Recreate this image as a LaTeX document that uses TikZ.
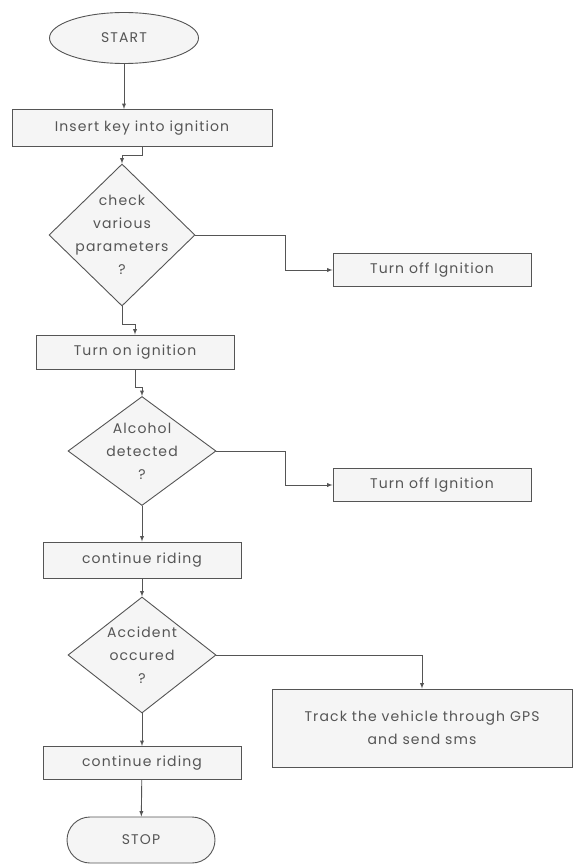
\documentclass[tikz,border=0pt]{standalone}
\usepackage{fontspec}
\setmainfont{Poppins}[LetterSpace=8]
\usetikzlibrary{shapes.geometric,shapes.misc}
\definecolor{linegray}{HTML}{555555}
\definecolor{textgray}{HTML}{555555}
\definecolor{boxgray}{HTML}{F5F5F5}

\begin{document}
\begin{tikzpicture}[x=1pt,y=-1pt]
      \tikzset{>=latex}
      \tikzset{
        flow/.style={draw=linegray, line width=0.9pt, fill=boxgray, text=textgray,
          font=\fontsize{14}{23}\selectfont, align=center, inner sep=0pt},
        process/.style={flow, shape=rectangle},
        decision/.style={flow, shape=diamond, inner sep=-24pt},
        terminal/.style={flow, shape=ellipse},
        stopbox/.style={flow, shape=rounded rectangle},
        link/.style={draw=linegray, line width=0.9pt, ->}
      }
      \useasboundingbox (0,0) rectangle (573,864);

      \node[terminal, minimum width=149pt, minimum height=51pt](start) at (124,38) {START};
      \node[process, minimum width=260pt, minimum height=37pt](insert) at (142,128) {Insert key into ignition};
      \node[decision, minimum width=146pt, minimum height=142pt](check) at (122,235) {check\\various\\parameters\\?};
      \node[process, minimum width=198pt, minimum height=33pt](offA) at (432,270) {Turn off Ignition};
      \node[process, minimum width=198pt, minimum height=34pt](turnon) at (135,352) {Turn on ignition};
      \node[decision, minimum width=148pt, minimum height=109pt](alcohol) at (142,451) {Alcohol\\detected\\?};
      \node[process, minimum width=198pt, minimum height=33pt](offB) at (432,485) {Turn off Ignition};
      \node[process, minimum width=198pt, minimum height=36pt](rideA) at (142,560) {continue riding};
      \node[decision, minimum width=148pt, minimum height=116pt](accident) at (142,655) {Accident\\occured\\?};
      \node[process, minimum width=300pt, minimum height=78pt](track) at (422,728) {Track the vehicle through GPS\\and send sms};
      \node[process, minimum width=198pt, minimum height=33pt](rideB) at (142,763) {continue riding};
      \node[stopbox, minimum width=148pt, minimum height=46pt](stop) at (141,840) {STOP};

      \draw [link] (start.south) -- (start.south |- insert.north);
      \draw [link] (insert.south) -- ++(0,8) -| (check.north);
      \draw [link] (check.east) -- ++(90,0) |- (offA.west);
      \draw [link] (check.south) -- ++(0,18) -| (turnon.north);
      \draw [link] (turnon.south) -- ++(0,18) -| (alcohol.north);
      \draw [link] (alcohol.east) -- ++(69,0) |- (offB.west);
      \draw [link] (alcohol) -- (rideA);
      \draw [link] (rideA) -- (accident);
      \draw [link] (accident.east) -| (track.north);
      \draw [link] (accident) -- (rideB);
      \draw [link] (rideB) -- (stop);
    \end{tikzpicture}
\end{document}
